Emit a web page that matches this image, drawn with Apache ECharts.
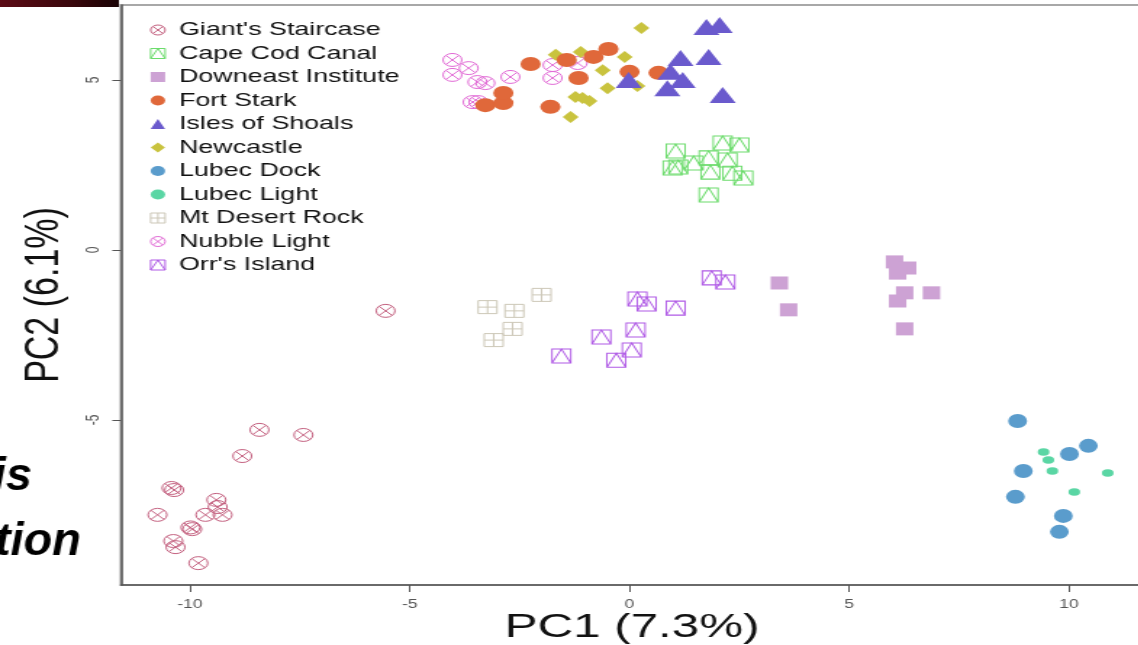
<!DOCTYPE html>
<html>
<head>
<meta charset="utf-8">
<script src="https://cdn.jsdelivr.net/npm/echarts@6/dist/echarts.min.js"></script>
<style>
html,body{margin:0;padding:0;background:#fff;overflow:hidden;}
#wrap{width:1138px;height:645px;overflow:hidden;position:relative;}
#chart{width:810px;height:645px;transform:scaleX(1.45);transform-origin:0 0;}
</style>
</head>
<body>
<div id="wrap"><div id="chart"></div></div>
<script>
// ---- data (PC1, PC2) ----
const siteNames = ["Giant's Staircase","Cape Cod Canal","Downeast Institute","Fort Stark","Isles of Shoals","Newcastle","Lubec Dock","Lubec Light","Mt Desert Rock","Nubble Light","Orr's Island"];
const giantsStaircase = [[-5.55,-1.79],[-8.42,-5.29],[-7.42,-5.44],[-8.81,-6.06],[-10.42,-7.0],[-10.36,-7.06],[-10.74,-7.79],[-9.40,-7.35],[-9.37,-7.56],[-9.26,-7.79],[-9.65,-7.79],[-9.99,-8.16],[-9.95,-8.21],[-10.38,-8.56],[-10.33,-8.74],[-9.81,-9.21]];
const capeCodCanal = [[1.05,2.91],[2.12,3.15],[2.50,3.09],[0.98,2.41],[1.11,2.44],[1.46,2.56],[1.80,2.71],[2.23,2.65],[1.84,2.29],[2.34,2.26],[2.59,2.12],[1.80,1.62]];
const downeastInstitute = [[6.03,-0.35],[6.33,-0.53],[6.10,-0.68],[6.26,-1.26],[6.87,-1.26],[6.10,-1.50],[6.26,-2.32],[3.41,-0.97],[3.62,-1.76]];
const fortStark = [[-3.28,4.26],[-2.87,4.32],[-2.87,4.62],[-2.25,5.47],[-1.80,4.21],[-1.16,5.06],[-1.43,5.59],[-0.82,5.68],[-0.48,5.91],[0.0,5.24],[0.66,5.21]];
const islesOfShoals = [[1.75,6.56],[2.05,6.62],[1.16,5.65],[1.80,5.68],[-0.02,5.0],[0.93,5.24],[1.21,5.0],[0.86,4.76],[2.12,4.56]];
const newcastle = [[0.27,6.53],[-1.68,5.74],[-1.11,5.82],[-0.11,5.68],[-0.61,5.29],[-0.50,4.76],[0.18,4.82],[-1.23,4.50],[-1.07,4.47],[-0.91,4.38],[-1.34,3.91]];
const lubecDock = [[8.83,-5.03],[10.44,-5.76],[10.01,-6.0],[8.96,-6.50],[8.78,-7.26],[9.87,-7.82],[9.78,-8.29]];
const lubecLight = [[9.42,-5.94],[9.53,-6.18],[9.62,-6.50],[10.12,-7.12],[10.88,-6.56]];
const mtDesertRock = [[-3.23,-1.68],[-2.62,-1.79],[-2.0,-1.32],[-2.66,-2.32],[-3.09,-2.65]];
const nubbleLight = [[-4.03,5.59],[-4.03,5.15],[-3.66,5.35],[-3.46,4.94],[-3.28,4.91],[-2.71,5.09],[-3.57,4.35],[-3.44,4.35],[-1.75,5.44],[-1.75,5.06],[-1.18,5.50]];
const orrsIsland = [[1.87,-0.82],[2.18,-0.94],[0.18,-1.44],[0.39,-1.59],[1.05,-1.71],[0.14,-2.35],[-0.64,-2.56],[0.05,-2.94],[-0.30,-3.24],[-1.55,-3.12]];
const xTicks = [-10,-5,0,5,10];
const yTicks = [-5,0,5];
const xTitle = 'PC1 (7.3%)';
const yTitle = 'PC2 (6.1%)';

// ---- styling ----
const S = 1.45;
const CIRCLE_X = 'path://M0,-10A10,10,0,1,1,0,10A10,10,0,1,1,0,-10ZM-7.07,-7.07L7.07,7.07M7.07,-7.07L-7.07,7.07';
const SQ_TRI = 'path://M-10,-10L10,-10L10,10L-10,10ZM-10,10L0,-10L10,10';
const SQ_PLUS = 'path://M-10,-10L10,-10L10,10L-10,10ZM0,-10L0,10M-10,0L10,0';
const DIAMOND = 'path://M0,-10L10,0L0,10L-10,0Z';

function openStyle(c){return {color:'rgba(0,0,0,0)',borderColor:c,borderWidth:1,opacity:1};}
function fillStyle(c){return {color:c,borderWidth:0,opacity:1};}

const specs = {
  "Giant's Staircase": {data:giantsStaircase, symbol:CIRCLE_X, size:[13,13], style:openStyle('#c4607f')},
  "Cape Cod Canal": {data:capeCodCanal, symbol:SQ_TRI, size:[13,14], style:openStyle('#6cdc6c')},
  "Downeast Institute": {data:downeastInstitute, symbol:'rect', size:[12,13], style:fillStyle('#cda2d4')},
  "Fort Stark": {data:fortStark, symbol:'circle', size:[14,14], style:fillStyle('#e0683a')},
  "Isles of Shoals": {data:islesOfShoals, symbol:'triangle', size:[18,16], style:fillStyle('#6a5acd')},
  "Newcastle": {data:newcastle, symbol:DIAMOND, size:[11,12], style:fillStyle('#c9c33e')},
  "Lubec Dock": {data:lubecDock, symbol:'circle', size:[13,14], style:fillStyle('#5a9ccc')},
  "Lubec Light": {data:lubecLight, symbol:'circle', size:[8,7.5], style:fillStyle('#5ad6a4')},
  "Mt Desert Rock": {data:mtDesertRock, symbol:SQ_PLUS, size:[13,13], style:openStyle('#cdc8b8')},
  "Nubble Light": {data:nubbleLight, symbol:CIRCLE_X, size:[13,13], style:openStyle('#e26ad6')},
  "Orr's Island": {data:orrsIsland, symbol:SQ_TRI, size:[13,14], style:openStyle('#b05ae6')}
};
const drawOrder = ["Giant's Staircase","Mt Desert Rock","Nubble Light","Orr's Island","Cape Cod Canal","Downeast Institute","Newcastle","Fort Stark","Isles of Shoals","Lubec Dock","Lubec Light"];

const series = drawOrder.map(n => ({
  name:n, type:'scatter', data:specs[n].data, symbol:specs[n].symbol, symbolSize:specs[n].size,
  itemStyle:specs[n].style, emphasis:{disabled:true}, silent:true, animation:false
}));

const chart = echarts.init(document.getElementById('chart'), null, {renderer:'canvas'});
chart.setOption({
  animation:false,
  backgroundColor:'#fff',
  grid:{left:121/S, top:5, width:(1160-121)/S, height:580, show:true, borderColor:'#a8a8a8', borderWidth:2, backgroundColor:'transparent'},
  xAxis:{type:'value', min:-11.57, max:12.07,
    axisLine:{show:true, onZero:false, lineStyle:{color:'#555', width:1.5}},
    axisTick:{show:true, length:7, customValues:xTicks, lineStyle:{color:'#555', width:1}},
    axisLabel:{customValues:xTicks, margin:14, fontSize:12, color:'#555', fontFamily:'Liberation Sans'},
    splitLine:{show:false}},
  yAxis:{type:'value', min:-9.853, max:7.206,
    axisLine:{show:true, onZero:false, lineStyle:{color:'#555', width:1.5}},
    axisTick:{show:true, length:6, customValues:yTicks, lineStyle:{color:'#555', width:1}},
    axisLabel:{customValues:yTicks, rotate:90, margin:13, fontSize:12, color:'#555', fontFamily:'Liberation Sans'},
    splitLine:{show:false}},
  legend:{
    orient:'vertical', left:98.4, top:15, itemWidth:10, itemHeight:10, itemGap:3.5,
    data: siteNames.map(n => ({name:n, icon:specs[n].symbol, itemStyle:specs[n].style})),
    textStyle:{fontSize:18.5, lineHeight:20, color:'#111', fontFamily:'Liberation Sans', padding:[0,0,0,4.5]},
    selectedMode:false
  },
  graphic:[
    {type:'rect', shape:{x:0,y:0,width:82,height:7}, style:{fill:new echarts.graphic.LinearGradient(0,0,1,0,[{offset:0,color:'#5c0c16'},{offset:0.6,color:'#3a070c'},{offset:1,color:'#1a0305'}])}},
    {type:'text', x:32/S, y:477, scaleX:1/S, style:{text:'is', font:'italic bold 47px "Liberation Sans"', fill:'#000', textAlign:'right', textVerticalAlign:'middle'}},
    {type:'text', x:81/S, y:542, scaleX:1/S, style:{text:'tion', font:'italic bold 47px "Liberation Sans"', fill:'#000', textAlign:'right', textVerticalAlign:'middle'}},
    {type:'text', x:31, y:295, rotation:Math.PI/2, style:{text:yTitle, font:'34px "Liberation Sans"', fill:'#111', textAlign:'center', textVerticalAlign:'middle'}},
    {type:'text', x:632/S, y:628, style:{text:xTitle, font:'34px "Liberation Sans"', fill:'#111', textAlign:'center', textVerticalAlign:'middle'}}
  ],
  series: series
});
</script>
</body>
</html>
